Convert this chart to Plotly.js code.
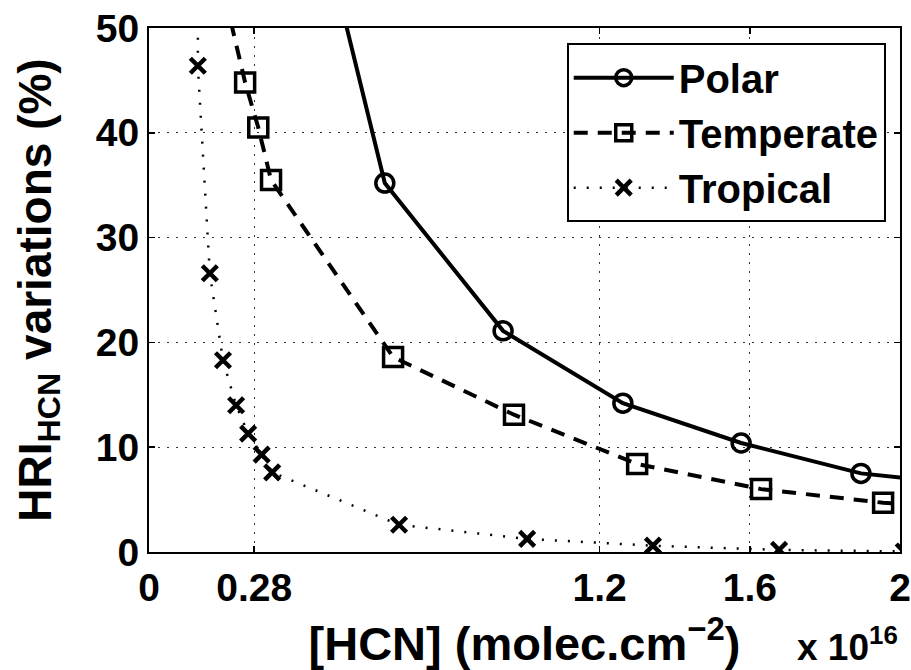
<!DOCTYPE html>
<html>
<head>
<meta charset="utf-8">
<script src="https://cdn.plot.ly/plotly-3.0.1.min.js"></script>
<style>html,body{margin:0;padding:0;background:#fff;}#chart{width:911px;height:670px;}</style>
</head>
<body>
<div id="chart"></div>
<script>
// Data (x in units of 1e16 molec.cm^-2, y in %)
var polarX = [0.313, 0.628, 0.943, 1.262, 1.577, 1.896, 2.21];
var polarY = [81.3, 35.2, 21.1, 14.2, 10.4, 7.5, 6.3];

var temperateX = [0.189, 0.256, 0.291, 0.325, 0.650, 0.972, 1.300, 1.630, 1.955, 2.28];
var temperateY = [55.0, 44.8, 40.5, 35.5, 18.6, 13.1, 8.4, 6.0, 4.7, 4.0];

var tropicalX = [0.133, 0.130, 0.162, 0.197, 0.232, 0.264, 0.300, 0.328, 0.666, 1.007, 1.342, 1.678, 2.01];
var tropicalY = [90, 46.4, 26.6, 18.3, 14.0, 11.3, 9.3, 7.6, 2.6, 1.25, 0.6, 0.2, 0.05];

var xTickVals = [0, 0.28, 1.2, 1.6, 2];
var xTickText = ['0', '0.28', '1.2', '1.6', '2'];
var yTickVals = [0, 10, 20, 30, 40, 50];

var FONT = 'Liberation Sans, Arial, Helvetica, sans-serif';

var traces = [
  {
    x: polarX, y: polarY, name: 'Polar', type: 'scatter', mode: 'lines+markers',
    line: {color: '#000', width: 4, dash: 'solid'},
    marker: {symbol: 'circle-open', size: 18, color: '#000', line: {color: '#000', width: 3.5}}
  },
  {
    x: temperateX, y: temperateY, name: 'Temperate', type: 'scatter', mode: 'lines+markers',
    line: {color: '#000', width: 4, dash: '14px,10px'},
    marker: {symbol: 'square-open', size: 19, color: '#000', line: {color: '#000', width: 3.5}}
  },
  {
    x: tropicalX, y: tropicalY, name: 'Tropical', type: 'scatter', mode: 'lines+markers',
    line: {color: '#000', width: 2.5, dash: '2px,11px'},
    marker: {symbol: 'x-thin-open', size: 15, color: '#000', line: {color: '#000', width: 4.5}}
  }
];

var layout = {
  width: 911, height: 670,
  margin: {l: 149, r: 11, t: 28, b: 118, pad: 0},
  paper_bgcolor: '#fff', plot_bgcolor: '#fff',
  font: {family: FONT, color: '#000'},
  showlegend: true,
  legend: {
    x: 0.981, xanchor: 'right', y: 0.971, yanchor: 'top',
    bgcolor: '#fff', bordercolor: '#000', borderwidth: 2,
    font: {family: FONT, size: 40, weight: 'bold', color: '#000'},
    itemwidth: 100, tracegroupgap: 0
  },
  xaxis: {
    range: [0, 2], tickmode: 'array', tickvals: xTickVals, ticktext: xTickText,
    showline: true, linecolor: '#000', linewidth: 2, mirror: 'ticks',
    ticks: 'inside', ticklen: 6, tickwidth: 1.5, tickcolor: '#000',
    showgrid: true, gridcolor: '#333', griddash: '1.5px,7.5px', gridwidth: 1,
    zeroline: false,
    tickfont: {family: FONT, size: 39, weight: 'bold', color: '#000'},
    title: {text: '[HCN] (molec.cm<sup>\u22122</sup>)', standoff: 20,
            font: {family: FONT, size: 47, weight: 'bold', color: '#000'}}
  },
  yaxis: {
    range: [0, 50], tickmode: 'array', tickvals: yTickVals,
    showline: true, linecolor: '#000', linewidth: 2, mirror: 'ticks',
    ticks: 'inside', ticklen: 6, tickwidth: 1.5, tickcolor: '#000',
    showgrid: true, gridcolor: '#333', griddash: '1.5px,7.5px', gridwidth: 1,
    zeroline: false,
    tickfont: {family: FONT, size: 39, weight: 'bold', color: '#000'},
    title: {text: 'HRI<sub>HCN</sub> variations (%)', standoff: 30,
            font: {family: FONT, size: 46, weight: 'bold', color: '#000'}}
  },
  annotations: [{
    xref: 'paper', yref: 'paper', x: 1.0, y: -0.176, xanchor: 'right', yanchor: 'middle',
    text: 'x 10<sup>16</sup>', showarrow: false,
    font: {family: FONT, size: 37, weight: 'bold', color: '#000'}
  }]
};

Plotly.newPlot('chart', traces, layout, {staticPlot: true, displayModeBar: false});
</script>
</body>
</html>
